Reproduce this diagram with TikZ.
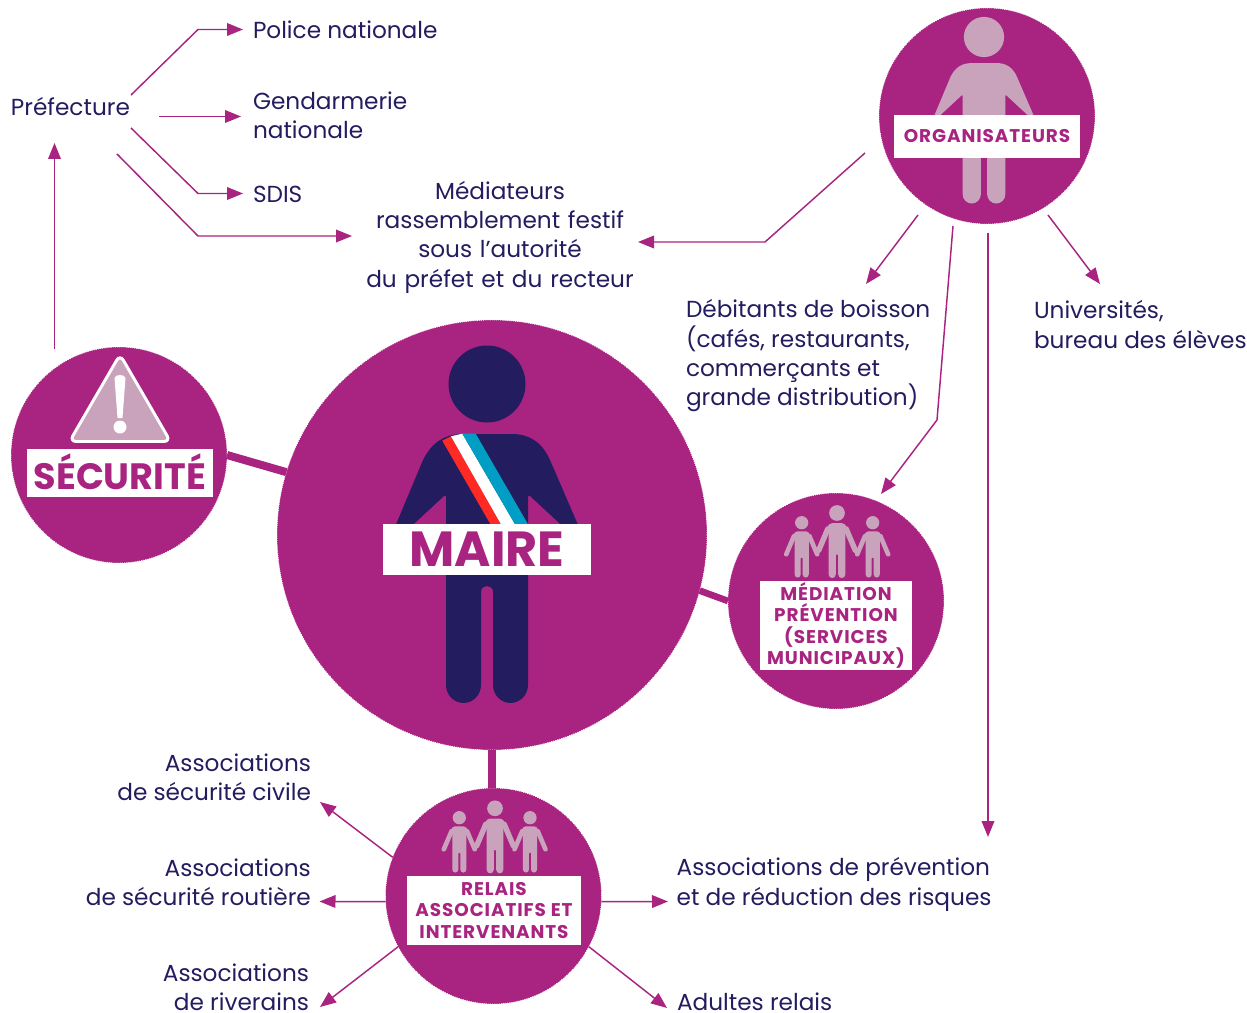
\documentclass[tikz,border=0pt]{standalone}
\usepackage{fontspec}
\setmainfont{Poppins}
\usetikzlibrary{arrows.meta}
\definecolor{mag}{HTML}{A92481}
\definecolor{navy}{HTML}{231C5F}
\definecolor{pale}{HTML}{C9A3BC}
\definecolor{sashred}{HTML}{FF2A23}
\definecolor{sashblue}{HTML}{009EC4}
\newcommand{\bigperson}[4]{%
\begin{scope}[shift={(#1,#2)},scale=#3]
\fill[#4] (0,0) circle (38.5);
\fill[#4] (-95,150) -- (-64,76) .. controls (-55,58) and (-42,50) .. (-24,50) -- (25,50)
 .. controls (42,50) and (55,58) .. (63,76) -- (95,150) -- (84,150) -- (43,112) -- (41,112) -- (41,301)
 .. controls (41,311) and (33,319) .. (23.5,319) .. controls (14,319) and (6,311) .. (6,301)
 -- (6,208) .. controls (6,200) and (-6,200) .. (-6,208) -- (-6,301)
 .. controls (-6,311) and (-14,319) .. (-23.5,319) .. controls (-33,319) and (-41,311) .. (-41,301)
 -- (-41,112) -- (-43,112) -- (-84,150) -- cycle;
\end{scope}}
\newcommand{\smallperson}[3]{%
\begin{scope}[shift={(#1,#2)},scale=#3]
\fill[pale] (0,0) circle (38.5);
\draw[pale,line width=#3*20pt,line cap=round] (-45,78) -- (-90,184);
\draw[pale,line width=#3*20pt,line cap=round] (45,78) -- (90,184);
\fill[pale] (-41,301) -- (-41,75) .. controls (-50,60) and (-35,50) .. (-24,50) -- (24,50)
 .. controls (35,50) and (50,60) .. (41,75) -- (41,301)
 .. controls (41,311) and (33,319) .. (23.5,319) .. controls (14,319) and (6,311) .. (6,301)
 -- (6,208) .. controls (6,200) and (-6,200) .. (-6,208) -- (-6,301)
 .. controls (-6,311) and (-14,319) .. (-23.5,319) .. controls (-33,319) and (-41,311) .. (-41,301) -- cycle;
\end{scope}}
\newfontfamily\platefont[LetterSpace=5,BoldFont={Poppins Bold}]{Poppins}
\tikzset{
 disc/.style={circle,fill=mag,draw=white,line width=.5pt,dash pattern=on .7pt off .9pt,inner sep=0pt,outer sep=0pt,minimum size=162pt},
 bigdisc/.style={disc,minimum size=322.5pt},
 plate/.style={fill=white,inner sep=0pt,outer sep=0pt,text=mag,align=center,font=\bfseries},
 smallplate/.style={plate,font=\platefont\bfseries\fontsize{13.8}{16.2}\selectfont},
 txt/.style={text=navy,inner sep=0pt,outer sep=0pt,font=\fontsize{17.4}{22}\selectfont},
 arrowline/.style={draw=mag,line width=1.1pt,line join=miter,-{Triangle[length=12pt,width=9.5pt]}},
 link/.style={draw=mag}
}
\begin{document}
\begin{tikzpicture}[x=.75pt,y=-.75pt]
\useasboundingbox (0,0) rectangle (1247,1013);
% discs
\node[bigdisc] (maire) at (492,535) {};
\node[disc] (secu) at (119,455) {};
\node[disc] (medi) at (836,601) {};
\node[disc] (orga) at (987,116) {};
\node[disc] (rela) at (493.5,896) {};
% thick links
\draw[link,line width=6pt] (secu.0) -- (maire.163);
\draw[link,line width=5pt] (medi.180) -- (maire.-15);
\draw[link,line width=6pt] (maire.-90) -- (maire.-90 |- rela.north);
% figures
\bigperson{487}{384}{1}{navy}
\fill[sashred] (442.3,440.7) -- (451,436.3) -- (502,526) -- (491.5,526) -- cycle;
\fill[white] (451,436.3) -- (462.3,433.7) -- (516,526) -- (502,526) -- cycle;
\fill[sashblue] (462.3,433.7) -- (475.7,433.7) -- (529,526) -- (516,526) -- cycle;
\bigperson{984}{37}{.522}{pale}
\smallperson{837}{513}{.204}
\smallperson{801.7}{522.7}{.172}
\smallperson{872.7}{522.7}{.172}
\smallperson{495}{808.3}{.204}
\smallperson{459.3}{817.7}{.172}
\smallperson{530}{817.7}{.172}
% warning sign
\fill[pale,draw=white,line width=2.2pt,rounded corners=5pt] (120,354.5) -- (170.5,441.5) -- (69.5,441.5) -- cycle;
\fill[white] (114.5,378) .. controls (115,374) and (125,374) .. (125.5,378) -- (122.5,418) -- (117.5,418) -- cycle;
\fill[white] (120,427) circle (6.5);
% plates
\node[plate,minimum width=139.5pt,minimum height=35.8pt,font=\bfseries\fontsize{27.5}{30}\selectfont] (secut) at (119.85,472.85) {\raisebox{2.5pt}{SÉCURITÉ}};
\node[plate,minimum width=156pt,minimum height=38.3pt,font=\bfseries\fontsize{37}{39}\selectfont] (mairet) at (487,549.5) {MAIRE};
\node[smallplate,minimum width=139.5pt,minimum height=32pt] (orgat) at (987,136.5) {ORGANISATEURS};
\node[smallplate,minimum width=114pt,minimum height=66.5pt] (medit) at (836,625.5) {MÉDIATION\\PRÉVENTION\\(SERVICES\\MUNICIPAUX)};
\node[smallplate,minimum width=130.5pt,minimum height=51.5pt] (relat) at (494,910.5) {RELAIS\\ASSOCIATIFS ET\\INTERVENANTS};
% texts
\node[txt,anchor=west] (pref) at (11,107) {Préfecture};
\node[txt,anchor=west,inner xsep=7.5pt] (poli) at (243,29.5) {Police nationale};
\node[txt,anchor=west,inner xsep=9pt,align=left] (gend) at (241,115.5) {Gendarmerie\\nationale};
\node[txt,align=center,text width=207pt] (medt) at (500,237) {Médiateurs\\rassemblement festif\\sous l’autorité\\du préfet et du recteur};
\node[txt,anchor=west,inner xsep=7.5pt] (sdis) at (243,194.5) {SDIS};
\node[txt,anchor=west,align=left] (debi) at (686,356) {Débitants de boisson\\(cafés, restaurants,\\commerçants et\\grande distribution)};
\node[txt,anchor=west,align=left] (univ) at (1034,324.5) {Universités,\\bureau des élèves};
\node[txt,anchor=east,align=right] (asci) at (311,777.5) {Associations\\de sécurité civile};
\node[txt,anchor=east,align=right,inner xsep=6.5pt] (asro) at (319.5,882) {Associations\\de sécurité routière};
\node[txt,anchor=east,align=right] (asri) at (309,987) {Associations\\de riverains};
\node[txt,anchor=west,align=left,inner xsep=6.5pt] (aspr) at (668,884.5) {Associations de prévention\\et de réduction des risques};
\node[txt,anchor=west] (adul) at (677,1001.5) {Adultes relais};
% free ends
\coordinate (p1) at (131,95); \coordinate (p1b) at (198,29.5);
\coordinate (p2) at (159,116.5);
\coordinate (p3) at (131,128); \coordinate (p3b) at (198,193.5);
\coordinate (p4) at (117,154); \coordinate (p4b) at (198,236);
\coordinate (s1) at (54.5,349); \coordinate (s1e) at (54.5,143);
\coordinate (o1) at (865,153); \coordinate (o1b) at (765,242);
\coordinate (o2) at (918,215); \coordinate (o2e) at (866,284);
\coordinate (o3) at (953,226); \coordinate (o3b) at (937,420); \coordinate (o3e) at (881,494);
\coordinate (o4) at (988,233); \coordinate (o4e) at (988,837);
\coordinate (o5) at (1048,215); \coordinate (o5e) at (1100,284);
\coordinate (r1e) at (320,802); \coordinate (r3e) at (320,1007); \coordinate (r5e) at (667,1008);
% arrows
\draw[arrowline] (p1) -- (p1b) -- (poli.west);
\draw[arrowline] (p2) -- ([yshift=-.75pt]gend.west);
\draw[arrowline] (p3) -- (p3b) -- ([yshift=.75pt]sdis.west);
\draw[arrowline] (p4) -- (p4b) -- ([xshift=-7.5pt,yshift=.75pt]medt.west);
\draw[arrowline] (s1) -- (s1e);
\draw[arrowline] (o1) -- (o1b) -- ([yshift=-3.75pt]medt.east);
\draw[arrowline] (o2) -- (o2e);
\draw[arrowline] (o3) -- (o3b) -- (o3e);
\draw[arrowline] (o4) -- (o4e);
\draw[arrowline] (o5) -- (o5e);
\draw[arrowline] (rela.159) -- (r1e);
\draw[arrowline] (rela.183) -- ([yshift=-14.6pt]asro.east);
\draw[arrowline] (rela.208.6) -- (r3e);
\draw[arrowline] (rela.-3) -- ([yshift=-12.75pt]aspr.west);
\draw[arrowline] (rela.-28.6) -- (r5e);
\end{tikzpicture}
\end{document}
